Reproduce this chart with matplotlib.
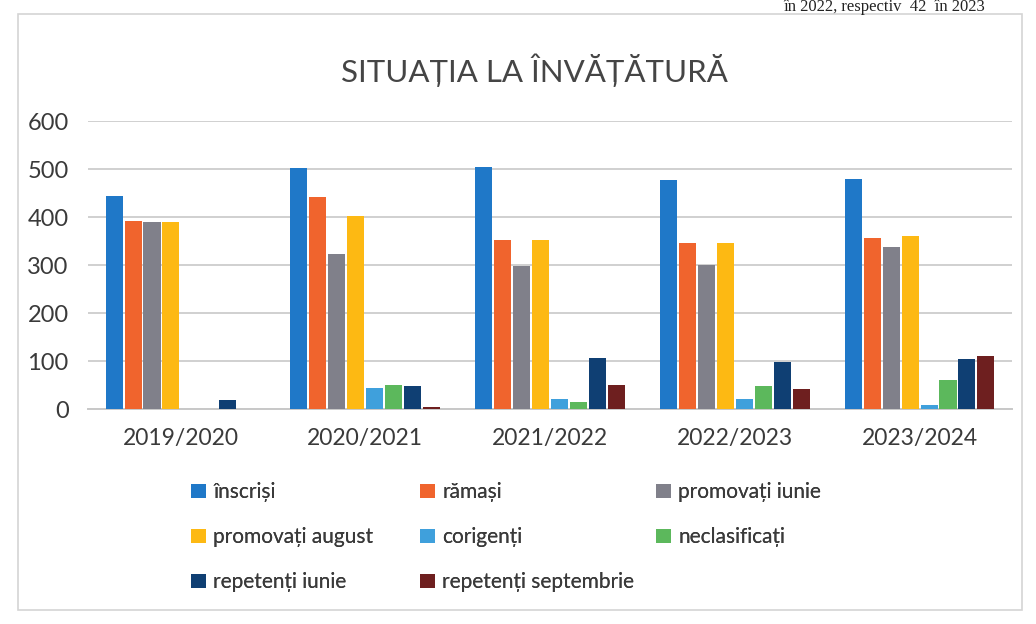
import matplotlib
matplotlib.use("Agg")
import matplotlib.pyplot as plt
import numpy as np
from matplotlib.patches import Rectangle, Patch

years = ["2019/2020", "2020/2021", "2021/2022", "2022/2023", "2023/2024"]
series_names = ["înscriși", "rămași", "promovați iunie", "promovați august",
                "corigenți", "neclasificați", "repetenți iunie", "repetenți septembrie"]
inscrisi = [444, 503, 504, 478, 480]
ramasi = [392, 442, 352, 346, 357]
promovati_iunie = [389, 322, 298, 300, 338]
promovati_august = [389, 402, 352, 345, 360]
corigenti = [0, 44, 20, 20, 9]
neclasificati = [0, 51, 15, 48, 60]
repetenti_iunie = [19, 47, 106, 97, 104]
repetenti_sept = [0, 4, 50, 42, 110]
colors = ["#1f78c8", "#f0642d", "#80808a", "#fdb913",
          "#3fa0dc", "#5cb85c", "#0f3f73", "#6e1f1f"]
yticks = [0, 100, 200, 300, 400, 500, 600]

data = [inscrisi, ramasi, promovati_iunie, promovati_august,
        corigenti, neclasificati, repetenti_iunie, repetenti_sept]

W, H = 1036, 624
fig = plt.figure(figsize=(W / 100, H / 100), dpi=100)
fig.patch.set_facecolor("white")
FONT = ["Lato", "DejaVu Sans"]
TXT = "#3a3a3a"

# chart border
fig.patches.append(Rectangle((18 / W, 1 - 610 / H), (1022 - 18) / W, (610 - 14) / H,
                             transform=fig.transFigure, fill=False,
                             edgecolor="#d4d4d4", linewidth=1.2))

# document text above the chart
fig.text(985 / W, 1 - 11 / H, "în 2022, respectiv  42  în 2023", ha="right",
         va="baseline", fontsize=12, family=["Liberation Serif"], color="#222222")

ax_l, ax_r = 88, 1012
ax_top, ax_bot = 121, 409
ax = fig.add_axes([ax_l / W, 1 - ax_bot / H, (ax_r - ax_l) / W, (ax_bot - ax_top) / H])

x = np.arange(len(years))
n = len(series_names)
group_w = 0.82
slot = group_w / n
bar_w = slot * 0.9
handles = []
for i, (vals, c, name) in enumerate(zip(data, colors, series_names)):
    off = -group_w / 2 + slot * (i + 0.5)
    ax.bar(x + off, vals, width=bar_w, color=c, label=name, zorder=3)
    handles.append(Patch(facecolor=c, edgecolor="none", label=name))

ax.set_xlim(-0.5, len(years) - 0.5)
ax.set_ylim(0, 600)
ax.set_yticks(yticks)
ax.set_yticklabels([str(v) for v in yticks], family=FONT, fontsize=17, color=TXT)
ax.set_xticks(x)
ax.set_xticklabels(years, family=FONT, fontsize=16.5, color=TXT)
ax.tick_params(axis="both", length=0)
ax.tick_params(axis="y", pad=14)
ax.tick_params(axis="x", pad=14)
ax.grid(axis="y", color="#d0d0d0", linewidth=1.4, zorder=0)
for s in ["top", "right", "left"]:
    ax.spines[s].set_visible(False)
ax.spines["bottom"].set_color("#c8c8c8")
ax.spines["bottom"].set_linewidth(1.4)

fig.text(534 / W, 1 - 70 / H, "SITUAȚIA LA ÎNVĂȚĂTURĂ", ha="center", va="center",
         fontsize=22.5, family=FONT, color="#454545")

# legend: three columns placed like the original
cols = [[0, 3, 6], [1, 4, 7], [2, 5]]
col_x = [183, 412, 648]
for ci, idxs in enumerate(cols):
    leg = fig.legend(handles=[handles[k] for k in idxs], loc="upper left",
                     bbox_to_anchor=(col_x[ci] / W, 1 - 474 / H),
                     frameon=False, prop={"family": FONT, "size": 15},
                     handlelength=0.7, handleheight=0.7, handletextpad=0.35,
                     labelspacing=1.2, borderaxespad=0)
    for t in leg.get_texts():
        t.set_color(TXT)
    fig.add_artist(leg)

fig.savefig("out.png", dpi=100, facecolor="white")
